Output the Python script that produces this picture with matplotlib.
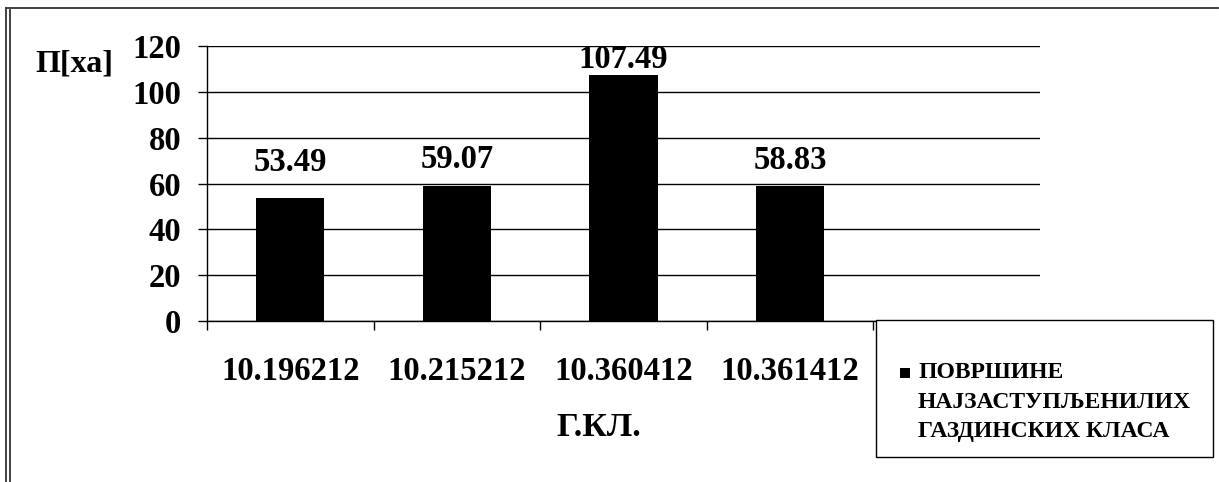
import matplotlib
matplotlib.use("Agg")
import matplotlib.pyplot as plt
from matplotlib.lines import Line2D
from matplotlib.patches import Rectangle
import numpy as np

# Chart data
categories = ["10.196212", "10.215212", "10.360412", "10.361412"]
areas = [53.49, 59.07, 107.49, 58.83]
y_ticks = [0, 20, 40, 60, 80, 100, 120]
y_label = "П[ха]"
x_label = "Г.КЛ."
legend_lines = ["ПОВРШИНЕ", "НАЈЗАСТУПЉЕНИЛИХ", "ГАЗДИНСКИХ КЛАСА"]

# Layout (pixels)
W, H = 1219, 482
DPI = 100
n_slots = len(categories) + 1          # one spare category slot on the right
label_offsets_px = [36, 26, 15, 26]    # value label distance above each bar

plt.rcParams["font.family"] = "serif"
plt.rcParams["font.serif"] = ["Liberation Serif", "DejaVu Serif"]
plt.rcParams["font.weight"] = "bold"


def fx(x):
    return x / W


def fy(y):
    return 1 - y / H


fig = plt.figure(figsize=(W / DPI, H / DPI), dpi=DPI)
fig.patch.set_facecolor("white")

ax = fig.add_axes([fx(207), fy(321), 833 / W, 275 / H])
ax.set_facecolor("none")

x = np.arange(len(categories))
ax.bar(x, areas, width=0.41, color="black", zorder=3)

ax.set_xlim(-0.5, n_slots - 0.5)
ax.set_ylim(y_ticks[0], y_ticks[-1])

# Y axis
ax.set_yticks(y_ticks)
ax.set_yticklabels([str(t) for t in y_ticks])
ax.yaxis.grid(True, color="black", linewidth=1.0, zorder=0)
ax.tick_params(axis="y", direction="out", length=6.5, width=1.0,
               pad=12, labelsize=23.5, colors="black")

# X axis: boundary ticks, labels centred under each bar
ax.set_xticks(np.arange(-0.5, n_slots, 1.0))
ax.set_xticklabels([])
ax.set_xticks(x, minor=True)
ax.set_xticklabels(categories, minor=True)
ax.tick_params(axis="x", which="major", direction="out", length=6.5, width=1.0)
ax.tick_params(axis="x", which="minor", length=0, pad=25, labelsize=23.5)

for side in ("top", "right"):
    ax.spines[side].set_visible(False)
for side in ("left", "bottom"):
    ax.spines[side].set_linewidth(1.0)
    ax.spines[side].set_color("black")
    ax.spines[side].set_zorder(4)

# Value labels above bars
for xi, v, off in zip(x, areas, label_offsets_px):
    ax.annotate(f"{v:.2f}", (xi, v), xytext=(0, off), textcoords="offset pixels",
                ha="center", va="center", fontsize=23.5, fontweight="bold",
                color="black", zorder=5)

# Axis titles
fig.text(fx(35), fy(64), y_label, ha="left", va="center", fontsize=23,
         fontweight="bold")
fig.text(fx(599), fy(428), x_label, ha="center", va="center", fontsize=24.5,
         fontweight="bold")

# Legend box
lx0, ly0, lx1, ly1 = 876, 320, 1213, 457
fig.patches.append(Rectangle((fx(lx0), fy(ly1)), (lx1 - lx0) / W, (ly1 - ly0) / H,
                             transform=fig.transFigure, facecolor="white",
                             edgecolor="black", linewidth=1.0, zorder=10))
fig.patches.append(Rectangle((fx(900), fy(378)), 10 / W, 10 / H,
                             transform=fig.transFigure, facecolor="black",
                             edgecolor="none", zorder=11))
for i, line in enumerate(legend_lines):
    fig.text(fx(918), fy(373 + 29.5 * i), line, ha="left", va="center",
             fontsize=17, fontweight="bold", zorder=11)

# Outer frame
frame_kw = dict(transform=fig.transFigure, color="#333333", linewidth=1.3, zorder=12)
fig.lines.append(Line2D([fx(5.5), fx(1218)], [fy(8), fy(8)], **frame_kw))
fig.lines.append(Line2D([fx(5.5), fx(5.5)], [fy(8), fy(482)], **frame_kw))
fig.lines.append(Line2D([fx(9.5), fx(9.5)], [fy(10), fy(482)], **frame_kw))

fig.savefig("out.png", dpi=DPI, facecolor="white")
